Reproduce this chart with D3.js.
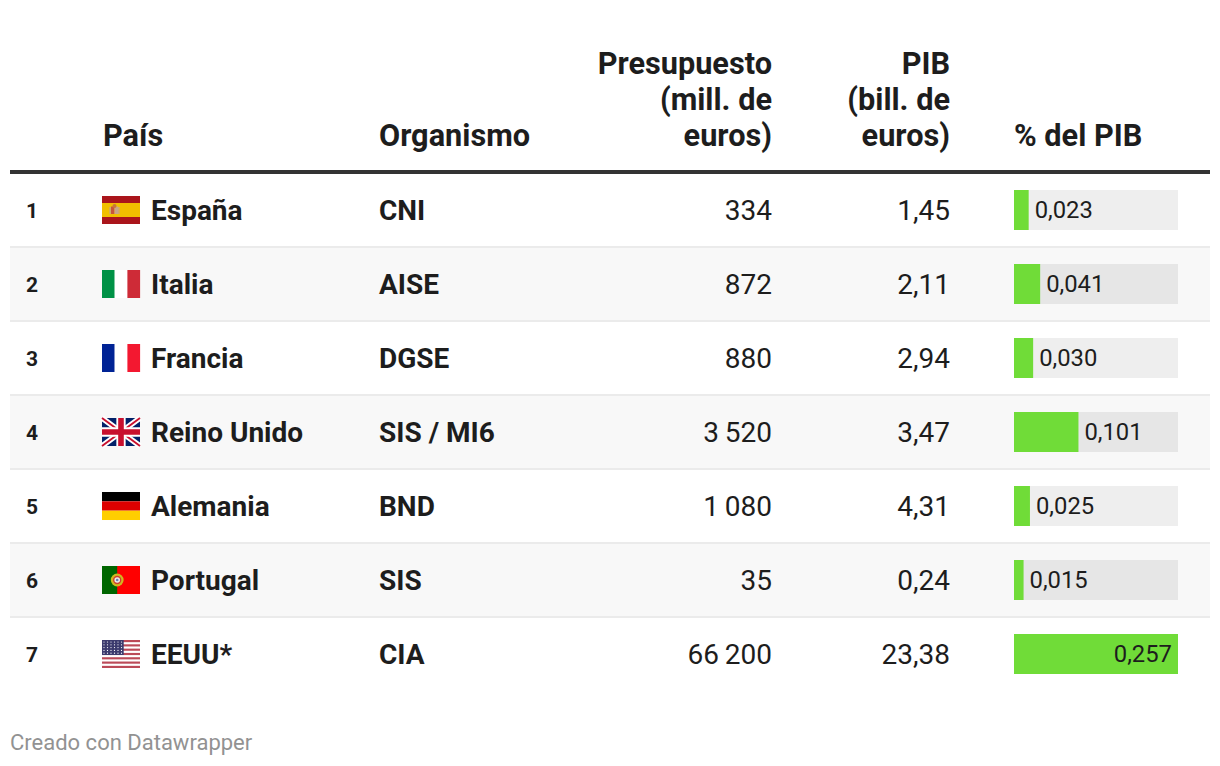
<!DOCTYPE html>
<html lang="es">
<head>
<meta charset="utf-8">
<title>Presupuesto de los servicios de inteligencia</title>
<script src="https://cdn.jsdelivr.net/npm/d3@7"></script>
<style>
  html, body { margin: 0; padding: 0; background: #fff; }
  svg { display: block; font-family: Roboto, sans-serif; }
  text { fill: #1d1d1d; }
  .head { font-size: 30.7px; font-weight: 700; }
  .name { font-size: 28px; font-weight: 700; }
  .num { font-size: 28px; font-weight: 400; }
  .rank { font-size: 21px; font-weight: 700; }
  .share { font-size: 23.8px; font-weight: 400; }
  .foot { font-size: 22px; fill: #929292; }
</style>
</head>
<body>
<div id="chart"></div>
<script>
const ranks = [1, 2, 3, 4, 5, 6, 7];
const countries = ['España', 'Italia', 'Francia', 'Reino Unido', 'Alemania', 'Portugal', 'EEUU*'];
const flagCodes = ['es', 'it', 'fr', 'uk', 'de', 'pt', 'us'];
const agencies = ['CNI', 'AISE', 'DGSE', 'SIS / MI6', 'BND', 'SIS', 'CIA'];
const budgets = [334, 872, 880, 3520, 1080, 35, 66200];
const gdps = [1.45, 2.11, 2.94, 3.47, 4.31, 0.24, 23.38];
const shares = [0.023, 0.041, 0.030, 0.101, 0.025, 0.015, 0.257];

const width = 1220;
const height = 766;

const svg = d3.select('#chart').append('svg')
  .attr('width', width)
  .attr('height', height);

const locale = d3.formatLocale({ decimal: ',', thousands: '\u2009', grouping: [3], currency: ['', ' €'] });
const fmtBudget = locale.format(',d');
const fmtGdp = locale.format('.2f');
const fmtShare = locale.format('.3f');

const left = 10;
const right = 1210;
const col = { rank: 26, flag: 102, country: 151, agency: 379, budget: 771, gdp: 949, bar: 1014 };

const y = d3.scaleBand().domain(ranks).range([174, 692]);
const x = d3.scaleLinear().domain([0, 0.257]).range([0, 164]);

// header
const headers = [
  { lines: ['País'], x: col.flag + 1, anchor: 'start' },
  { lines: ['Organismo'], x: col.agency, anchor: 'start' },
  { lines: ['Presupuesto', '(mill. de', 'euros)'], x: col.budget + 1, anchor: 'end' },
  { lines: ['PIB', '(bill. de', 'euros)'], x: col.gdp + 1, anchor: 'end' },
  { lines: ['% del PIB'], x: col.bar, anchor: 'start' },
];
headers.forEach((h) => {
  h.lines.forEach((line, i) => {
    svg.append('text')
      .attr('class', 'head')
      .attr('x', h.x)
      .attr('y', 146 - (h.lines.length - 1 - i) * 36)
      .attr('text-anchor', h.anchor)
      .text(line);
  });
});

svg.append('rect')
  .attr('x', left).attr('y', 170)
  .attr('width', right - left).attr('height', 4)
  .attr('fill', '#333333');

// flags, drawn in a 38x28 box
const flagDrawers = {
  es(g) {
    g.append('rect').attr('width', 38).attr('height', 28).attr('fill', '#aa151b');
    g.append('rect').attr('y', 7).attr('width', 38).attr('height', 14).attr('fill', '#f1bf00');
    g.append('rect').attr('x', 9).attr('y', 10.5).attr('width', 3.5).attr('height', 7.5).attr('fill', '#c8553a');
    g.append('rect').attr('x', 12.5).attr('y', 10.5).attr('width', 3.5).attr('height', 7.5).attr('fill', '#c9a58a');
    g.append('circle').attr('cx', 12.5).attr('cy', 10).attr('r', 2).attr('fill', '#c9743c');
    g.append('rect').attr('x', 7.5).attr('y', 11).attr('width', 1.2).attr('height', 7).attr('fill', '#c4a09a');
    g.append('rect').attr('x', 16.3).attr('y', 11).attr('width', 1.2).attr('height', 7).attr('fill', '#c4a09a');
  },
  it(g) {
    [['#009246', 0], ['#ffffff', 12.7], ['#ce2b37', 25.4]].forEach(([c, px]) => {
      g.append('rect').attr('x', px).attr('width', 12.7).attr('height', 28).attr('fill', c);
    });
  },
  fr(g) {
    [['#002395', 0], ['#ffffff', 12.7], ['#f31830', 25.4]].forEach(([c, px]) => {
      g.append('rect').attr('x', px).attr('width', 12.7).attr('height', 28).attr('fill', c);
    });
  },
  uk(g) {
    g.append('rect').attr('width', 38).attr('height', 28).attr('fill', '#012169');
    g.append('path').attr('d', 'M0,0L38,28M38,0L0,28').attr('stroke', '#fff').attr('stroke-width', 5.6);
    g.append('path').attr('d', 'M0,0L38,28M38,0L0,28').attr('stroke', '#c8102e').attr('stroke-width', 1.9);
    g.append('path').attr('d', 'M19,0V28M0,14H38').attr('stroke', '#fff').attr('stroke-width', 9.3);
    g.append('path').attr('d', 'M19,0V28M0,14H38').attr('stroke', '#c8102e').attr('stroke-width', 5.6);
  },
  de(g) {
    [['#000000', 0], ['#dd0000', 9.33], ['#ffce00', 18.67]].forEach(([c, py]) => {
      g.append('rect').attr('y', py).attr('width', 38).attr('height', 9.34).attr('fill', c);
    });
  },
  pt(g) {
    g.append('rect').attr('width', 38).attr('height', 28).attr('fill', '#ff0000');
    g.append('rect').attr('width', 15.2).attr('height', 28).attr('fill', '#006600');
    g.append('circle').attr('cx', 15.2).attr('cy', 14).attr('r', 6.4).attr('fill', '#d0b820');
    g.append('circle').attr('cx', 15.2).attr('cy', 14).attr('r', 4.2).attr('fill', '#d04030');
    g.append('circle').attr('cx', 15.2).attr('cy', 14).attr('r', 2.8).attr('fill', '#eeeeee');
    g.append('circle').attr('cx', 15.2).attr('cy', 14).attr('r', 1.3).attr('fill', '#6a7fb0');
  },
  us(g) {
    g.append('rect').attr('width', 38).attr('height', 28).attr('fill', '#fff');
    d3.range(0, 13, 2).forEach((i) => {
      g.append('rect').attr('y', i * 28 / 13).attr('width', 38).attr('height', 28 / 13).attr('fill', '#bb4a58');
    });
    g.append('rect').attr('width', 21.7).attr('height', 15).attr('fill', '#3c3b6e');
    d3.range(0, 5).forEach((r) => {
      d3.range(0, 6).forEach((c) => {
        g.append('circle')
          .attr('cx', 2 + c * 3.5).attr('cy', 2 + r * 2.8)
          .attr('r', 0.6).attr('fill', '#fff');
      });
    });
  },
};

// rows
const rows = svg.selectAll('g.row')
  .data(ranks.map((r, i) => ({
    rank: r,
    country: countries[i],
    flag: flagCodes[i],
    agency: agencies[i],
    budget: budgets[i],
    gdp: gdps[i],
    share: shares[i],
  })))
  .join('g')
  .attr('class', 'row')
  .attr('transform', (d) => `translate(0,${y(d.rank)})`);

const rowH = y.bandwidth();
const barH = 40;
const barX = col.bar;

rows.filter((d) => d.rank % 2 === 0).append('rect')
  .attr('x', left)
  .attr('width', right - left)
  .attr('height', rowH)
  .attr('fill', '#f8f8f8');

rows.filter((d) => d.rank < ranks.length).append('rect')
  .attr('x', left)
  .attr('y', rowH - 2)
  .attr('width', right - left)
  .attr('height', 2)
  .attr('fill', '#ebebeb');

const mid = 36;

rows.append('text').attr('class', 'rank')
  .attr('x', col.rank).attr('y', mid + 8)
  .text((d) => d.rank);

rows.append('g')
  .attr('transform', `translate(${col.flag},${mid - 14})`)
  .each(function (d) { flagDrawers[d.flag](d3.select(this)); });

rows.append('text').attr('class', 'name')
  .attr('x', col.country).attr('y', mid + 10)
  .text((d) => d.country);

rows.append('text').attr('class', 'name')
  .attr('x', col.agency).attr('y', mid + 10)
  .text((d) => d.agency);

rows.append('text').attr('class', 'num')
  .attr('x', col.budget + 1).attr('y', mid + 10)
  .attr('text-anchor', 'end')
  .text((d) => fmtBudget(d.budget));

rows.append('text').attr('class', 'num')
  .attr('x', col.gdp + 1).attr('y', mid + 10)
  .attr('text-anchor', 'end')
  .text((d) => fmtGdp(d.gdp));

// bars
rows.append('rect')
  .attr('x', barX).attr('y', mid - barH / 2)
  .attr('width', x.range()[1]).attr('height', barH)
  .attr('fill', (d) => (d.rank % 2 === 0 ? '#e6e6e6' : '#eeeeee'));

rows.append('rect')
  .attr('x', barX).attr('y', mid - barH / 2)
  .attr('width', (d) => x(d.share)).attr('height', barH)
  .attr('fill', '#70dc38');

rows.append('text').attr('class', 'share')
  .attr('x', (d) => (d.share === d3.max(shares) ? barX + x(d.share) - 6 : barX + x(d.share) + 6))
  .attr('y', mid + 8)
  .attr('text-anchor', (d) => (d.share === d3.max(shares) ? 'end' : 'start'))
  .text((d) => fmtShare(d.share));

svg.append('text').attr('class', 'foot')
  .attr('x', 10).attr('y', 750)
  .text('Creado con Datawrapper');
</script>
</body>
</html>
